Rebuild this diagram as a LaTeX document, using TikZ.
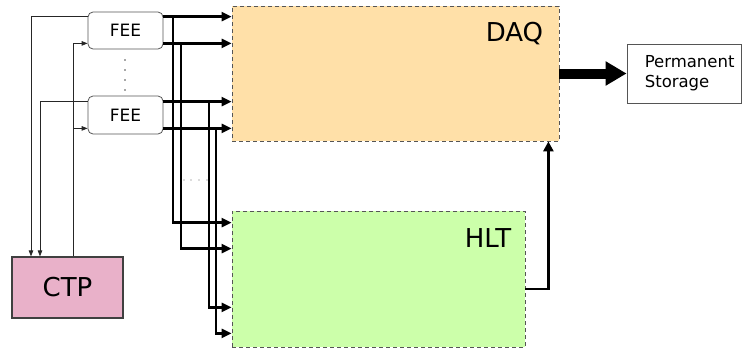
\documentclass[tikz,border=0pt]{standalone}
\usepackage{fontspec}
\setmainfont{DejaVu Sans}
\usetikzlibrary{arrows.meta}
\definecolor{daqorange}{HTML}{FFE0A8}
\definecolor{hltgreen}{HTML}{CCFFAA}
\definecolor{ctppink}{HTML}{E9B1C9}
\definecolor{edgegray}{HTML}{555555}

\begin{document}
\begin{tikzpicture}[x=1pt, y=-1pt,
    fee/.style={draw=edgegray, fill=white, rounded corners=5pt, line width=0.8pt, minimum width=75pt, minimum height=37pt, font=\fontsize{17}{20}\selectfont},
    farm/.style={draw=edgegray, line width=0.8pt, dash pattern=on 4pt off 3pt},
    big/.style={font=\fontsize{26}{30}\selectfont, inner sep=0pt},
    bus/.style={-{Triangle[length=10pt,width=9pt]}, line width=2.4pt},
    feed/.style={-{Triangle[length=10pt,width=10pt]}, line width=2.6pt},
    ctl/.style={-{Triangle[length=6pt,width=4.5pt]}, line width=0.8pt, color=black!85},
    pipe/.style={-{Triangle[length=21pt,width=23pt]}, line width=10pt}
]
\useasboundingbox (0,0) rectangle (742,354);

% boxes
\node[farm, fill=daqorange, minimum width=327pt, minimum height=135pt] (daq) at (395.5,73.5) {};
\node[farm, fill=hltgreen, minimum width=293pt, minimum height=136pt] (hlt) at (378.5,279) {};
\node[big, anchor=base east] (daqlbl) at ([xshift=-16pt,yshift=-36pt]daq.north east) {DAQ};
\node[big, anchor=base east] (hltlbl) at ([xshift=-14pt,yshift=-37pt]hlt.north east) {HLT};
\node[draw=black!75, fill=ctppink, line width=1.2pt, minimum width=111pt, minimum height=61pt, font=\fontsize{26}{30}\selectfont] (ctp) at (67.5,287.5) {CTP};
\node[draw=edgegray, fill=white, line width=0.8pt, minimum width=114pt, minimum height=59pt] (storage) at (684,73.5) {};
\node[anchor=west, align=left, inner sep=0pt, font=\fontsize{16.5}{20}\selectfont] (storlbl) at ([xshift=18pt]storage.west) {Permanent\\Storage};
\node[fee] (fee1) at (125.5,30.5) {FEE};
\node[fee, minimum height=38pt] (fee2) at (125.5,115) {FEE};

% dots
\foreach \y in {60,70,80,90} \fill[black!70] (125,\y) circle (0.8);
\foreach \x in {184,191,199,207} \fill[black!60] (\x,180) circle (0.7);

% FEE outputs
\coordinate (o1) at ([yshift=-5pt]fee1.north east);
\coordinate (o2) at ([yshift=6pt]fee1.south east);
\coordinate (o3) at ([yshift=-6pt]fee2.north east);
\coordinate (o4) at ([yshift=6pt]fee2.south east);
\coordinate (h1) at ([yshift=-12pt]hlt.north west);
\coordinate (h2) at ([yshift=-38pt]hlt.north west);
\coordinate (h3) at ([yshift=40pt]hlt.south west);
\coordinate (h4) at ([yshift=14pt]hlt.south west);

\draw[bus] (o1) -- (o1 -| daq.west);
\draw[bus] (o2) -- (o2 -| daq.west);
\draw[bus] (o3) -- (o3 -| daq.west);
\draw[bus] (o4) -- (o4 -| daq.west);
\draw[bus] (o1 -| 173,0) |- (h1);
\draw[bus] (o2 -| 181,0) |- (h2);
\draw[bus] (o3 -| 209,0) |- (h3);
\draw[bus] (o4 -| 216,0) |- (h4);

% trigger lines
\coordinate (c1) at ([yshift=-5pt]fee1.north west);
\coordinate (c2) at ([yshift=6pt]fee1.south west);
\coordinate (c3) at ([yshift=-6pt]fee2.north west);
\coordinate (c4) at ([yshift=6pt]fee2.south west);
\draw[ctl] (c1) -| (ctp.north -| 31,0);
\draw[ctl] (c3) -| (ctp.north -| 40,0);
\draw[ctl] (ctp.north -| 73,0) |- (c2);
\draw[ctl] (c4 -| 73,0) -- (c4);

% HLT to DAQ, DAQ to storage
\draw[feed] ([yshift=-10pt]hlt.east) -| ([xshift=-11pt]daq.south east);
\draw[pipe] (daq.east) -- (storage.west);
\end{tikzpicture}
\end{document}
